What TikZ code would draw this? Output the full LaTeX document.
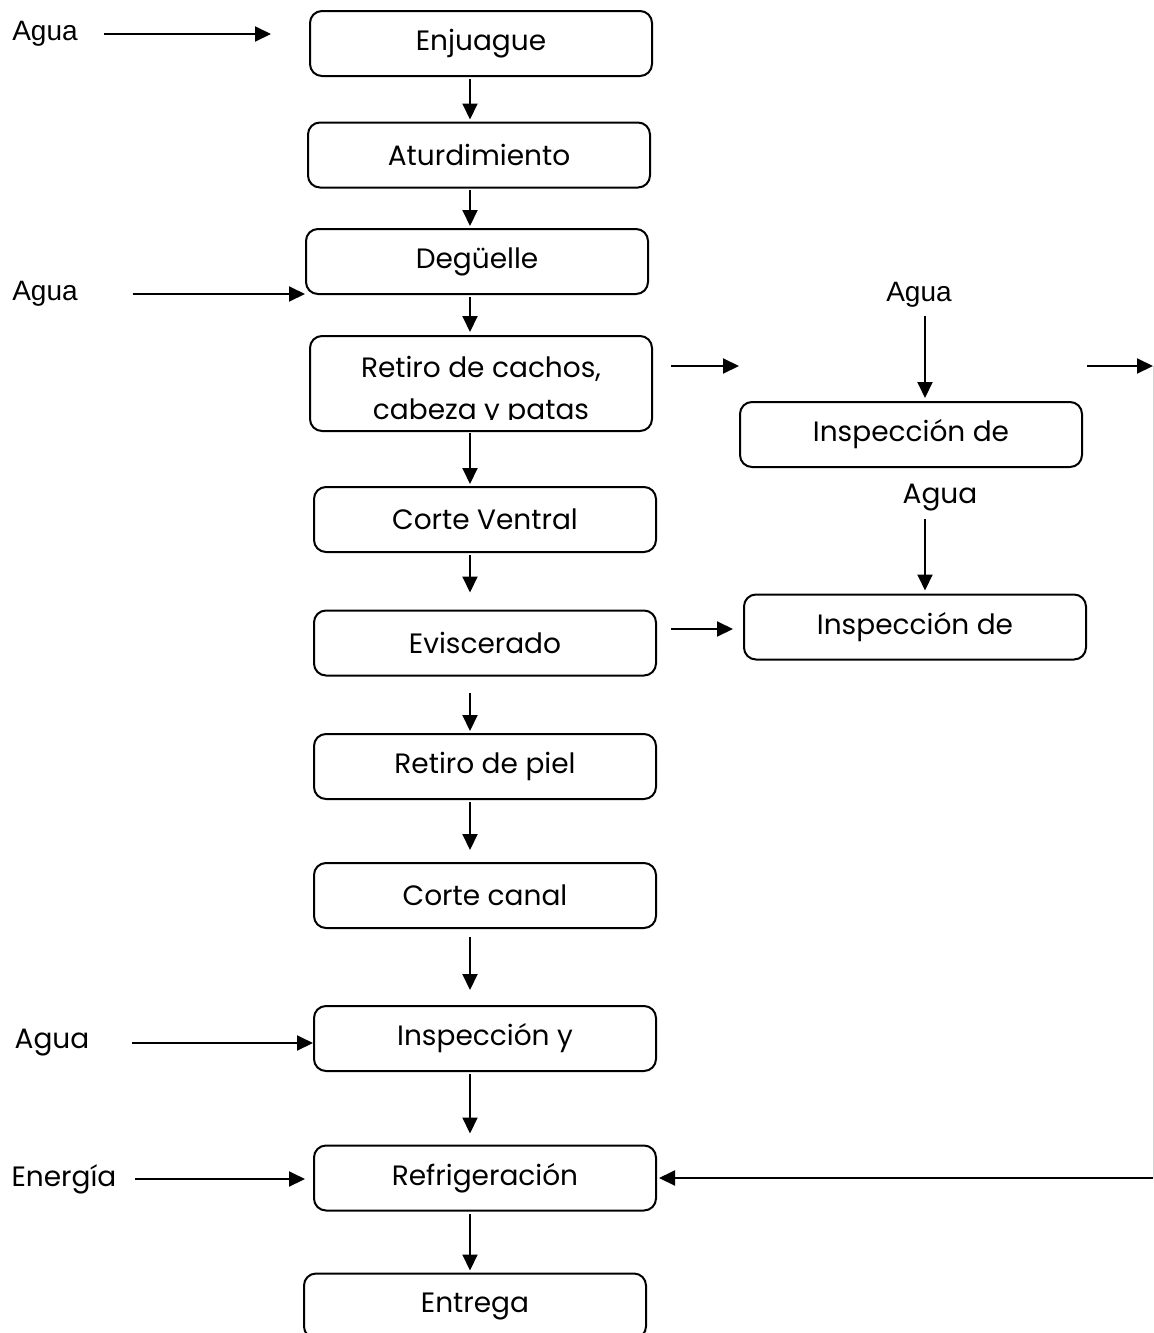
\documentclass[tikz,border=0pt]{standalone}
\usepackage{fontspec}
\setmainfont{Poppins}
\newfontfamily\arialfont{Liberation Sans}
\usetikzlibrary{arrows.meta}
\begin{document}
\begin{tikzpicture}[x=0.5pt,y=-0.5pt,>={Triangle[length=8pt,width=7.5pt]},line width=1pt,font=\fontsize{14}{20}\selectfont,
		paso/.style={draw,rounded corners=6pt,minimum width=171pt,minimum height=32.5pt,inner sep=0pt},
		rotulo/.style={inner sep=0pt}]
		\useasboundingbox (0,0) rectangle (1154,1333);
		% etapas del proceso
		\node[paso] (enj) at (481,43.5) {Enjuague};
		\node[paso] (atu) at (479,155) {Aturdimiento};
		\node[paso] (deg) at (477,261.5) {Degüelle};
		\node[paso,minimum height=47.5pt] (ret) at (481,383.5) {};
		\node[paso] (cv) at (485,519.5) {Corte Ventral};
		\node[paso] (evi) at (485,643) {Eviscerado};
		\node[paso] (rp) at (485,766.5) {Retiro de piel};
		\node[paso] (cc) at (485,895.5) {Corte canal};
		\node[paso] (ins) at (485,1038.5) {Inspección y};
		\node[paso] (ref) at (485,1178) {Refrigeración};
		\node[paso] (ent) at (475,1306) {Entrega};
		\node[paso] (ins1) at (911,434.5) {Inspección de};
		\node[paso] (ins2) at (915,627) {Inspección de};
		\begin{scope}
			\clip (ret.north west) rectangle ([yshift=6.5pt]ret.south east);
			\node[align=center,font=\fontsize{14}{21}\selectfont] (rett) at (481,391) {Retiro de cachos,\\cabeza y patas};
		\end{scope}
		% entradas
		\node[rotulo,font=\arialfont\fontsize{14}{16}\selectfont] (ag1) at (45,34) {Agua};
		\node[rotulo,font=\arialfont\fontsize{14}{16}\selectfont] (ag2) at (45,294) {Agua};
		\node[rotulo,font=\arialfont\fontsize{14}{16}\selectfont] (ag3) at (919,295) {Agua};
		\node[rotulo] (ag4) at (940,498) {Agua};
		\node[rotulo] (ag5) at (52,1043) {Agua};
		\node[rotulo] (ene) at (64,1179) {Energía};
		\coordinate (eje) at (470,0);
		\coordinate (der) at (1153,366);
		% flechas del proceso
		\foreach \a/\b/\s/\t in {enj/atu/1/1,atu/deg/0.5/1,deg/ret/1/1.5,ret/cv/0.5/1,cv/evi/1/8.5,evi/rp/8/1,rp/cc/1/6,cc/ins/4/7.5,ins/ref/1/5.5,ref/ent/1/1}
			\draw[->] ([yshift=-\s pt]\a.south -| eje) -- ([yshift=\t pt]\b.north -| eje);
		\draw[->] ([xshift=12.5pt]ag1.east) -- ([xshift=-19pt]enj.west |- ag1);
		\draw[->] ([xshift=27pt]ag2.east) -- (deg.west |- ag2);
		\draw[->] ([xshift=3pt,yshift=-3.5pt]ag3.south) -- ([xshift=3pt,yshift=1.5pt]ins1.north -| ag3);
		\draw[->] ([xshift=-7.5pt,yshift=-3.5pt]ag4.south) -- ([xshift=-7.5pt,yshift=1.5pt]ins2.north -| ag4);
		\draw[->] ([xshift=21pt]ag5.east) -- (ins.west |- ag5);
		\draw[->] ([xshift=9pt]ene.east) -- ([xshift=-4pt]ref.west |- ene);
		\draw[->] ([xshift=9pt]ret.east |- der) -- ([xshift=43pt]ret.east |- der);
		\draw[->] ([xshift=7pt]evi.east |- 0,629) -- ([xshift=-5pt]ins2.west |- 0,629);
		\draw[->] ([xshift=2pt]ins1.east |- der) -- (der);
		\draw[gray!35,line width=0.5pt] (der) -- (der |- ref);
		\draw[->] (der |- ref) -- ([xshift=1pt]ref.east);
\end{tikzpicture}
\end{document}
